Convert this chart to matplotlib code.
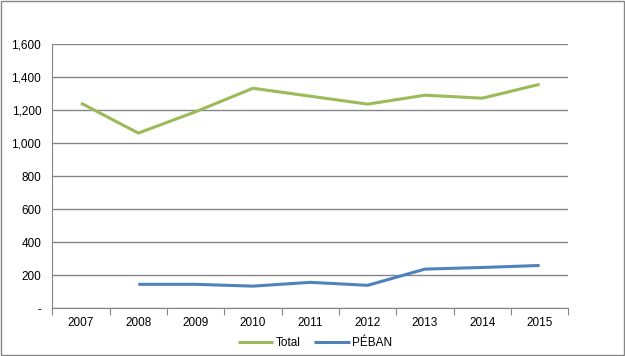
import matplotlib.pyplot as plt
import numpy as np

years = ['2007', '2008', '2009', '2010', '2011', '2012', '2013', '2014', '2015']
total = [1241, 1060, 1189, 1331, 1283, 1235, 1289, 1271, 1355]
peban = [np.nan, 145, 145, 134, 157, 139, 237, 247, 259]
yticks = [0, 200, 400, 600, 800, 1000, 1200, 1400, 1600]
ylabels = ['-', '200', '400', '600', '800', '1,000', '1,200', '1,400', '1,600']

plt.rcParams['font.family'] = ['Liberation Sans', 'DejaVu Sans']

fig = plt.figure(figsize=(6.25, 3.56), dpi=100)
ax = fig.add_axes([0.0837, 0.134, 0.8256, 0.743])
x = np.arange(len(years))

ax.plot(x, total, color='#9BBB59', lw=2.2, label='Total', solid_capstyle='butt')
ax.plot(x, peban, color='#4F81BD', lw=2.2, label='PÉBAN', solid_capstyle='butt')

ax.set_xlim(-0.5, len(years) - 0.5)
ax.set_ylim(0, 1600)
ax.set_yticks(yticks)
ax.set_yticklabels(ylabels, fontsize=8.5)
ax.yaxis.grid(True, color='#868686', lw=1)
ax.set_axisbelow(True)
ax.tick_params(axis='y', length=0, pad=8)

# boundary ticks on x, labels in the middle
ax.set_xticks(np.arange(-0.5, len(years)), minor=False)
ax.set_xticklabels([])
ax.set_xticks(x, minor=True)
ax.set_xticklabels(years, minor=True, fontsize=8.5)
ax.tick_params(axis='x', which='major', length=5, color='#868686')
ax.tick_params(axis='x', which='minor', length=0, pad=6)

for s in ['top', 'right']:
    ax.spines[s].set_visible(False)
ax.spines['left'].set_color('#868686')
ax.spines['bottom'].set_color('#868686')

fig.legend(loc='center', bbox_to_anchor=(0.504, 0.037), ncol=2, frameon=False,
           fontsize=8.5, handlelength=3.0, handletextpad=0.2, columnspacing=1.2,
           borderaxespad=0)

fig.patches.append(plt.Rectangle((0.001, 0.002), 0.997, 0.995, transform=fig.transFigure,
                                 fill=False, edgecolor='#868686', lw=1))

fig.savefig('out.png', dpi=100)
